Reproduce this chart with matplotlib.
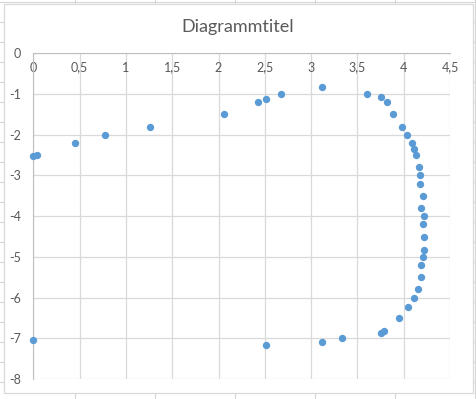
import matplotlib
matplotlib.use("Agg")
import matplotlib.pyplot as plt
from matplotlib.lines import Line2D
from matplotlib.patches import Rectangle
from matplotlib.ticker import FuncFormatter, MultipleLocator

# Werte
x_vals = [0.00, 0.04, 0.45, 0.77, 1.26, 2.06, 2.43, 2.51, 2.67, 3.12,
          3.60, 3.76, 3.82, 3.88, 3.98, 4.04, 4.09, 4.11, 4.13, 4.16,
          4.18, 4.18, 4.21, 4.19, 4.22, 4.21, 4.22, 4.22, 4.21, 4.19,
          4.19, 4.15, 4.11, 4.05, 3.95, 3.79, 3.76, 3.33, 3.12, 2.51,
          0.00]
y_vals = [-2.53, -2.51, -2.21, -2.01, -1.82, -1.50, -1.20, -1.13, -1.01, -0.84,
          -1.01, -1.08, -1.20, -1.50, -1.82, -2.01, -2.21, -2.36, -2.51, -2.80,
          -3.00, -3.22, -3.51, -3.81, -4.00, -4.20, -4.50, -4.82, -5.01, -5.21,
          -5.50, -5.80, -6.00, -6.22, -6.51, -6.81, -6.86, -7.00, -7.08, -7.17,
          -7.05]

title = "Diagrammtitel"
txt_col = "#595959"
grid_col = "#d9d9d9"
dot_col = "#5b9bd5"

W, H = 476, 399
fig = plt.figure(figsize=(W / 100, H / 100), dpi=100)
fig.patch.set_facecolor("white")

# Tabellenraster hinter dem Diagramm
sheet = "#d6d6d6"
for cx in [75, 155, 235, 315, 395, 475.3]:
    fig.add_artist(Line2D([cx / W, cx / W], [0, 1], color=sheet, lw=0.8, zorder=0))
for ry in range(2, 400, 20):
    fig.add_artist(Line2D([0, 1], [1 - ry / H, 1 - ry / H], color=sheet, lw=0.8, zorder=0))

# Diagrammrahmen
fig.add_artist(Rectangle((3.5 / W, 1 - 393 / H), (473 - 3.5) / W, (393 - 4) / H,
                         facecolor="white", edgecolor=grid_col, lw=0.9, zorder=1))

ax = fig.add_axes([33.3 / W, 1 - 379 / H, (450 - 33.3) / W, (379 - 53.3) / H], zorder=2)
ax.set_xlim(0, 4.5)
ax.set_ylim(-8, 0)
ax.set_facecolor("none")

ax.scatter(x_vals, y_vals, s=28, color=dot_col, zorder=5, clip_on=False, linewidths=0)

ax.xaxis.set_major_locator(MultipleLocator(0.5))
ax.yaxis.set_major_locator(MultipleLocator(1))
fmt = FuncFormatter(lambda v, p: ("%g" % v).replace(".", ","))
ax.xaxis.set_major_formatter(fmt)
ax.yaxis.set_major_formatter(fmt)

ax.grid(True, color=grid_col, lw=0.9)
ax.set_axisbelow(True)
for s in ["top", "right"]:
    ax.spines[s].set_visible(False)
ax.spines["bottom"].set_position(("data", 0))
ax.spines["bottom"].set_color("#bfbfbf")
ax.spines["left"].set_color("#bfbfbf")
ax.tick_params(length=0, labelsize=9, labelcolor=txt_col)
ax.tick_params(axis="x", pad=6)
ax.tick_params(axis="y", pad=9)
for lab in ax.get_xticklabels() + ax.get_yticklabels():
    lab.set_fontfamily("Lato")

fig.text(238 / W, 1 - 27 / H, title, ha="center", va="center",
         fontsize=13, color=txt_col, family="Lato")

fig.savefig("out.png", dpi=100)
